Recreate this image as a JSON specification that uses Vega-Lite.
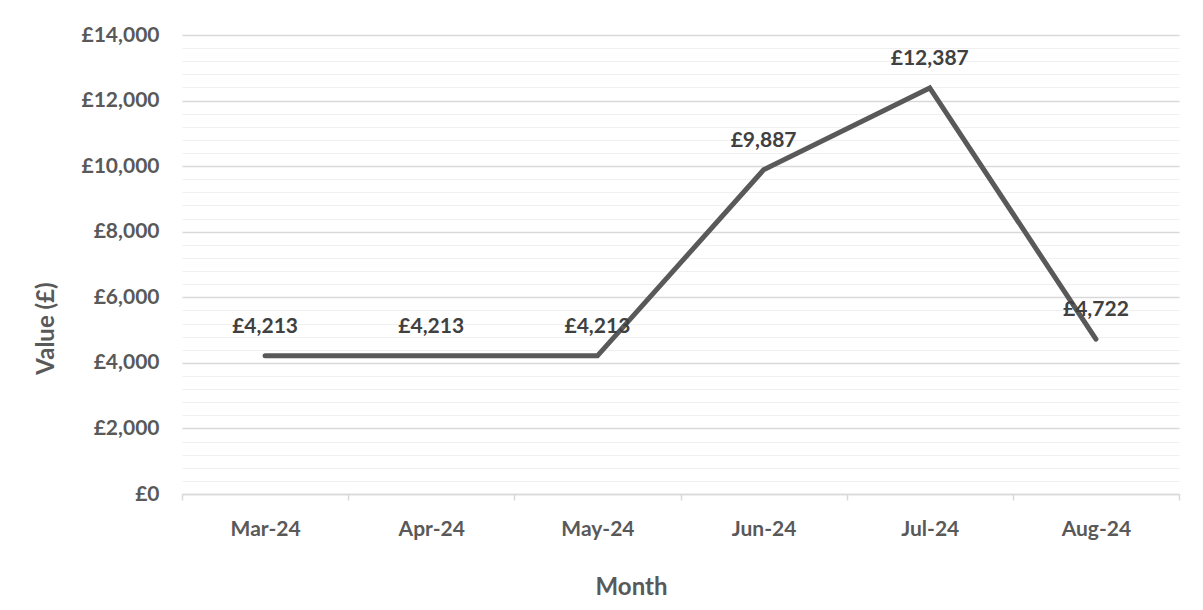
{
  "$schema": "https://vega.github.io/schema/vega-lite/v6.json",
  "autosize": {"type": "none"},
  "width": 997,
  "height": 459,
  "padding": {"left": 182, "top": 35, "right": 24, "bottom": 116},
  "background": "white",
  "config": {"view": {"stroke": null}, "font": "Lato"},
  "data": {
    "values": [
      {"month": "Mar-24", "value": 4213, "label": "£4,213"},
      {"month": "Apr-24", "value": 4213, "label": "£4,213"},
      {"month": "May-24", "value": 4213, "label": "£4,213"},
      {"month": "Jun-24", "value": 9887, "label": "£9,887"},
      {"month": "Jul-24", "value": 12387, "label": "£12,387"},
      {"month": "Aug-24", "value": 4722, "label": "£4,722"}
    ]
  },
  "encoding": {
    "x": {
      "field": "month",
      "type": "ordinal",
      "sort": null,
      "scale": {"type": "band", "paddingInner": 0, "paddingOuter": 0},
      "axis": {
        "title": "Month",
        "labelAngle": 0,
        "tickBand": "extent",
        "ticks": true,
        "tickSize": 6,
        "tickColor": "#d9d9d9",
        "tickWidth": 1.5,
        "domainColor": "#d9d9d9",
        "domainWidth": 1.5,
        "grid": false,
        "labelPadding": 18,
        "labelFont": "Lato",
        "labelFontSize": 21,
        "labelFontWeight": "bold",
        "labelColor": "#595959",
        "titleFont": "Lato",
        "titleFontSize": 24,
        "titleFontWeight": "bold",
        "titleColor": "#595959",
        "titleX": 449,
        "titleY": 93,
        "titleAlign": "center",
        "titleBaseline": "middle"
      }
    },
    "y": {
      "field": "value",
      "type": "quantitative",
      "scale": {"domain": [0, 14000], "nice": false},
      "axis": {
        "title": "Value (£)",
        "values": [0,400,800,1200,1600,2000,2400,2800,3200,3600,4000,4400,4800,5200,5600,6000,6400,6800,7200,7600,8000,8400,8800,9200,9600,10000,10400,10800,11200,11600,12000,12400,12800,13200,13600,14000],
        "labelExpr": "datum.value % 2000 === 0 ? '£' + format(datum.value, ',') : ''",
        "ticks": false,
        "domain": false,
        "grid": true,
        "gridColor": {"condition": {"test": "datum.value % 2000 === 0", "value": "#d9d9d9"}, "value": "#f0f0f0"},
        "gridWidth": {"condition": {"test": "datum.value % 2000 === 0", "value": 1.5}, "value": 1.2},
        "labelPadding": 23,
        "labelFont": "Lato",
        "labelFontSize": 21,
        "labelFontWeight": "bold",
        "labelColor": "#595959",
        "titleFont": "Lato",
        "titleFontSize": 24,
        "titleFontWeight": "bold",
        "titleColor": "#595959",
        "titleX": -136,
        "titleY": 293,
        "titleAngle": -90,
        "titleAlign": "center",
        "titleBaseline": "middle"
      }
    }
  },
  "layer": [
    {
      "mark": {"type": "line", "color": "#595959", "strokeWidth": 5, "strokeCap": "round", "strokeJoin": "miter"}
    },
    {
      "mark": {"type": "text", "dy": -23, "baseline": "alphabetic", "align": "center", "font": "Lato", "fontWeight": "bold", "fontSize": 21, "color": "#404040"},
      "encoding": {"text": {"field": "label"}}
    }
  ]
}
